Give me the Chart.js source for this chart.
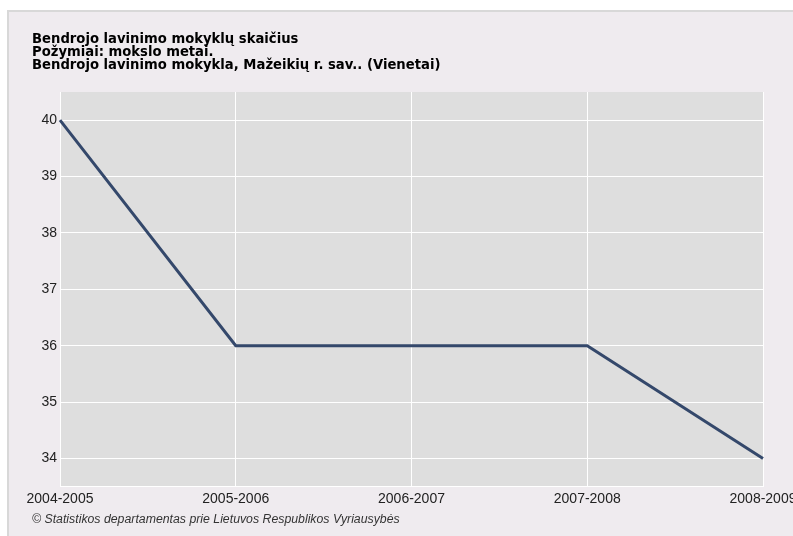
<!DOCTYPE html>
<html><head><meta charset="utf-8">
<script src="https://cdn.jsdelivr.net/npm/chart.js@4/dist/chart.umd.min.js"></script>
<style>html,body{margin:0;padding:0;background:#fff;}#wrap{width:793px;height:536px;}</style>
</head><body><div id="wrap"><canvas id="c" width="793" height="536"></canvas></div>
<script>
const categories = ["2004-2005","2005-2006","2006-2007","2007-2008","2008-2009"];
const values = [40, 36, 36, 36, 34];
const yTicks = [34, 35, 36, 37, 38, 39, 40];
const titleLines = ["Bendrojo lavinimo mokyklų skaičius","Požymiai: mokslo metai.","Bendrojo lavinimo mokykla, Mažeikių r. sav.. (Vienetai)"];
const footerText = "© Statistikos departamentas prie Lietuvos Respublikos Vyriausybės";

const panelPlugin = {
  id: 'panel',
  beforeDraw(chart) {
    const ctx = chart.ctx;
    ctx.save();
    ctx.fillStyle = '#ffffff';
    ctx.fillRect(0, 0, chart.width, chart.height);
    ctx.fillStyle = '#efebef';
    ctx.fillRect(8, 11, chart.width, chart.height);
    ctx.strokeStyle = '#d8d8d8';
    ctx.lineWidth = 2;
    ctx.strokeRect(8, 11, chart.width + 10, chart.height + 10);
    const a = chart.chartArea;
    ctx.fillStyle = '#dedede';
    ctx.fillRect(a.left, a.top, a.right - a.left, a.bottom - a.top);
    ctx.restore();
  }
};

new Chart(document.getElementById('c'), {
  type: 'line',
  data: {
    labels: categories,
    datasets: [{
      data: values,
      borderColor: '#34486b',
      borderWidth: 3,
      pointRadius: 0,
      tension: 0,
      fill: false,
      clip: false
    }]
  },
  options: {
    responsive: false,
    animation: false,
    devicePixelRatio: 1,
    layout: { padding: { left: 32, right: 30, top: 0, bottom: 0 } },
    plugins: {
      legend: { display: false },
      tooltip: { enabled: false },
      title: {
        display: true,
        text: titleLines,
        align: 'start',
        color: '#000000',
        font: { family: 'DejaVu Sans, sans-serif', size: 13.2, weight: 'bold', lineHeight: 0.985 },
        padding: { top: 33, bottom: 20 }
      },
      subtitle: {
        display: true,
        position: 'bottom',
        text: footerText,
        align: 'start',
        color: '#333333',
        font: { family: 'Liberation Sans, Arial, sans-serif', size: 12.3, style: 'italic', lineHeight: 1.0 },
        padding: { top: 7, bottom: 10 }
      }
    },
    scales: {
      x: {
        type: 'category',
        offset: false,
        grid: { color: '#ffffff', lineWidth: 1, drawTicks: false },
        border: { display: true, color: '#ffffff', width: 1 },
        ticks: { color: '#222222', padding: 4, maxRotation: 0, autoSkip: false,
                 font: { family: 'Liberation Sans, Arial, sans-serif', size: 14 } },
        afterFit(scale) { scale.height = 20; scale.paddingLeft = 0; scale.paddingRight = 0; }
      },
      y: {
        min: 33.5,
        max: 40.5,
        grid: { color: '#ffffff', lineWidth: 1, drawTicks: false },
        border: { display: true, color: '#ffffff', width: 1 },
        ticks: { color: '#222222', padding: 3,
                 font: { family: 'Liberation Sans, Arial, sans-serif', size: 14 } },
        afterBuildTicks(scale) { scale.ticks = yTicks.map(v => ({ value: v })); },
        afterFit(scale) { scale.width = 28; scale.paddingTop = 0; scale.paddingBottom = 0; }
      }
    }
  },
  plugins: [panelPlugin]
});
</script></body></html>
